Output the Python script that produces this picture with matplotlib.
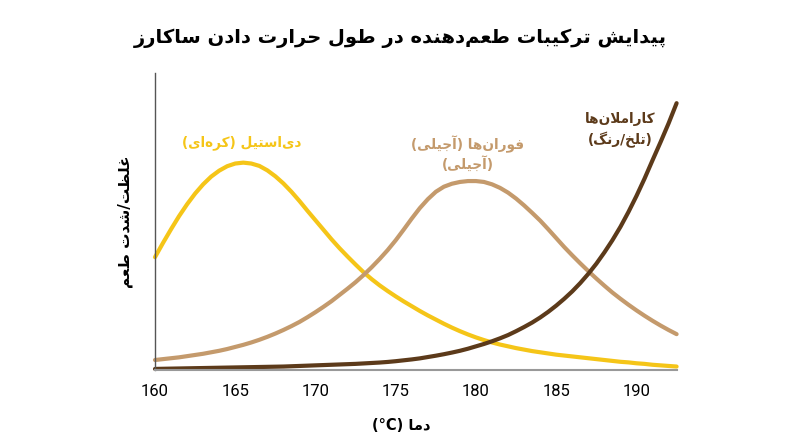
import matplotlib
matplotlib.use("Agg")
import matplotlib.pyplot as plt

# data (every half degree)
temps = [160.0, 160.5, 161.0, 161.5, 162.0, 162.5, 163.0, 163.5, 164.0, 164.5, 165.0, 165.5,
         166.0, 166.5, 167.0, 167.5, 168.0, 168.5, 169.0, 169.5, 170.0, 170.5, 171.0, 171.5,
         172.0, 172.5, 173.0, 173.5, 174.0, 174.5, 175.0, 175.5, 176.0, 176.5, 177.0, 177.5,
         178.0, 178.5, 179.0, 179.5, 180.0, 180.5, 181.0, 181.5, 182.0, 182.5, 183.0, 183.5,
         184.0, 184.5, 185.0, 185.5, 186.0, 186.5, 187.0, 187.5, 188.0, 188.5, 189.0, 189.5,
         190.0, 190.5, 191.0, 191.5, 192.0, 192.5]
diacetyl = [38.0, 42.8, 47.4, 51.8, 55.8, 59.4, 62.5, 65.1, 67.1, 68.6, 69.5, 69.8,
            69.5, 68.7, 67.2, 65.2, 62.8, 60.0, 56.9, 53.6, 50.4, 47.2, 44.0, 41.0,
            38.2, 35.5, 32.9, 30.6, 28.5, 26.6, 24.8, 23.1, 21.5, 19.9, 18.4, 17.0,
            15.6, 14.3, 13.1, 12.0, 11.0, 10.1, 9.3, 8.6, 8.0, 7.4, 6.9, 6.4,
            6.0, 5.6, 5.2, 4.9, 4.6, 4.3, 4.0, 3.7, 3.4, 3.1, 2.8, 2.6,
            2.3, 2.1, 1.8, 1.6, 1.4, 1.2]
furans = [3.4, 3.7, 4.0, 4.3, 4.7, 5.1, 5.5, 6.0, 6.5, 7.1, 7.8, 8.5,
          9.3, 10.2, 11.2, 12.3, 13.5, 14.8, 16.2, 17.8, 19.5, 21.3, 23.2, 25.3,
          27.4, 29.6, 32.0, 34.6, 37.4, 40.4, 43.7, 47.3, 51.0, 54.5, 57.5, 60.0,
          61.7, 62.7, 63.3, 63.6, 63.6, 63.3, 62.5, 61.3, 59.7, 57.7, 55.4, 52.9,
          50.3, 47.4, 44.4, 41.4, 38.6, 35.9, 33.3, 30.8, 28.4, 26.1, 24.0, 22.0,
          20.1, 18.3, 16.6, 15.0, 13.5, 12.1]
caramelans = [0.4, 0.45, 0.5, 0.55, 0.6, 0.65, 0.7, 0.75, 0.8, 0.85, 0.9, 0.95,
              1.0, 1.05, 1.1, 1.15, 1.2, 1.3, 1.4, 1.5, 1.6, 1.7, 1.8, 1.9,
              2.0, 2.1, 2.25, 2.4, 2.55, 2.75, 3.0, 3.3, 3.6, 3.95, 4.4, 4.85,
              5.35, 5.9, 6.5, 7.2, 8.0, 8.8, 9.7, 10.7, 11.8, 13.1, 14.5, 16.0,
              17.7, 19.6, 21.7, 24.0, 26.5, 29.3, 32.4, 35.8, 39.6, 43.7, 48.2, 53.2,
              58.6, 64.4, 70.6, 76.7, 83.0, 89.8]
xticks = [160, 165, 170, 175, 180, 185, 190]

title = "پیدایش ترکیبات طعم‌دهنده در طول حرارت دادن ساکارز"
ylabel = "غلظت/شدت طعم"
xlabel_fa = "دما"
label_diacetyl = "دی‌استیل (کره‌ای)"
label_furans = ["فوران‌ها (آجیلی)", "(آجیلی)"]
label_caramelans = ["کاراملان‌ها", "(تلخ/رنگ)"]

YELLOW = "#F5C518"
TAN = "#C49A6C"
BROWN = "#5C3A1A"

# matplotlib has no arabic shaping, so map letters to presentation forms by hand
# (isolated, final, initial, medial)
FORMS = {
    "ا": (0xFE8D, 0xFE8E), "آ": (0xFE81, 0xFE82), "د": (0xFEA9, 0xFEAA),
    "ذ": (0xFEAB, 0xFEAC), "ر": (0xFEAD, 0xFEAE), "ز": (0xFEAF, 0xFEB0),
    "ژ": (0xFB8A, 0xFB8B), "و": (0xFEED, 0xFEEE),
    "ب": (0xFE8F, 0xFE90, 0xFE91, 0xFE92), "پ": (0xFB56, 0xFB57, 0xFB58, 0xFB59),
    "ت": (0xFE95, 0xFE96, 0xFE97, 0xFE98), "ث": (0xFE99, 0xFE9A, 0xFE9B, 0xFE9C),
    "ج": (0xFE9D, 0xFE9E, 0xFE9F, 0xFEA0), "چ": (0xFB7A, 0xFB7B, 0xFB7C, 0xFB7D),
    "ح": (0xFEA1, 0xFEA2, 0xFEA3, 0xFEA4), "خ": (0xFEA5, 0xFEA6, 0xFEA7, 0xFEA8),
    "س": (0xFEB1, 0xFEB2, 0xFEB3, 0xFEB4), "ش": (0xFEB5, 0xFEB6, 0xFEB7, 0xFEB8),
    "ص": (0xFEB9, 0xFEBA, 0xFEBB, 0xFEBC), "ض": (0xFEBD, 0xFEBE, 0xFEBF, 0xFEC0),
    "ط": (0xFEC1, 0xFEC2, 0xFEC3, 0xFEC4), "ظ": (0xFEC5, 0xFEC6, 0xFEC7, 0xFEC8),
    "ع": (0xFEC9, 0xFECA, 0xFECB, 0xFECC), "غ": (0xFECD, 0xFECE, 0xFECF, 0xFED0),
    "ف": (0xFED1, 0xFED2, 0xFED3, 0xFED4), "ق": (0xFED5, 0xFED6, 0xFED7, 0xFED8),
    "ک": (0xFB8E, 0xFB8F, 0xFB90, 0xFB91), "گ": (0xFB92, 0xFB93, 0xFB94, 0xFB95),
    "ل": (0xFEDD, 0xFEDE, 0xFEDF, 0xFEE0), "م": (0xFEE1, 0xFEE2, 0xFEE3, 0xFEE4),
    "ن": (0xFEE5, 0xFEE6, 0xFEE7, 0xFEE8), "ه": (0xFEE9, 0xFEEA, 0xFEEB, 0xFEEC),
    "ی": (0xFBFC, 0xFBFD, 0xFBFE, 0xFBFF),
}
LAM_ALEF = {"ا": (0xFEFB, 0xFEFC), "آ": (0xFEF5, 0xFEF6)}
MIRROR = {"(": ")", ")": "("}


def fa(text):
    out = []
    i = 0
    n = len(text)
    while i < n:
        c = text[i]
        if c == "\u200c":
            i += 1
            continue
        if c not in FORMS:
            out.append(MIRROR.get(c, c))
            i += 1
            continue
        prev = text[i - 1] if i > 0 else ""
        join_prev = prev in FORMS and len(FORMS[prev]) == 4
        if c == "ل" and i + 1 < n and text[i + 1] in LAM_ALEF:
            out.append(chr(LAM_ALEF[text[i + 1]][1 if join_prev else 0]))
            i += 2
            continue
        nxt = text[i + 1] if i + 1 < n else ""
        f = FORMS[c]
        join_next = len(f) == 4 and nxt in FORMS
        if join_prev and join_next:
            out.append(chr(f[3]))
        elif join_prev:
            out.append(chr(f[1]))
        elif join_next:
            out.append(chr(f[2]))
        else:
            out.append(chr(f[0]))
        i += 1
    return "".join(reversed(out))


fig = plt.figure(figsize=(8, 4.47), dpi=100)
ax = fig.add_axes([0.19375, 0.172, 0.652, 0.665])

ax.plot(temps, diacetyl, color=YELLOW, lw=3, solid_capstyle="round",
        solid_joinstyle="round", clip_on=False)
ax.plot(temps, furans, color=TAN, lw=3, solid_capstyle="round",
        solid_joinstyle="round", clip_on=False)
ax.plot(temps, caramelans, color=BROWN, lw=3, solid_capstyle="round",
        solid_joinstyle="round", clip_on=False)

ax.set_xlim(160, 192.5)
ax.set_ylim(0, 100)
ax.set_xticks(xticks)
ax.set_xticklabels([str(t) for t in xticks], fontfamily="Roboto", fontsize=12)
ax.set_yticks([])
ax.tick_params(axis="x", length=0, pad=10)
for s in ["top", "right"]:
    ax.spines[s].set_visible(False)
ax.spines["left"].set_color("#555555")
ax.spines["left"].set_linewidth(1)
ax.spines["bottom"].set_color("#999999")
ax.spines["bottom"].set_linewidth(1.5)

fs = "DejaVu Sans"
fig.text(0.5, 0.915, fa(title), ha="center", va="center", fontsize=14,
         fontweight="bold", family=fs)
fig.text(0.157, 0.503, fa(ylabel), ha="center", va="center", rotation=90,
         fontsize=11, fontweight="bold", family=fs)
fig.text(0.501, 0.047, "(°C) " + fa(xlabel_fa), ha="center", va="center",
         fontsize=10.5, fontweight="bold", family=fs)

ax.text(165.4, 76.5, fa(label_diacetyl), color=YELLOW, ha="center", va="center",
        fontsize=9.8, fontweight="bold", family=fs)
ax.text(179.5, 76.0, fa(label_furans[0]), color=TAN, ha="center", va="center",
        fontsize=9.8, fontweight="bold", family=fs)
ax.text(179.5, 69.3, fa(label_furans[1]), color=TAN, ha="center", va="center",
        fontsize=9.8, fontweight="bold", family=fs)
ax.text(189.0, 84.5, fa(label_caramelans[0]), color=BROWN, ha="center", va="center",
        fontsize=9.8, fontweight="bold", family=fs)
ax.text(189.0, 77.5, fa(label_caramelans[1]), color=BROWN, ha="center", va="center",
        fontsize=9.8, fontweight="bold", family=fs)

fig.savefig("out.png", dpi=100)
